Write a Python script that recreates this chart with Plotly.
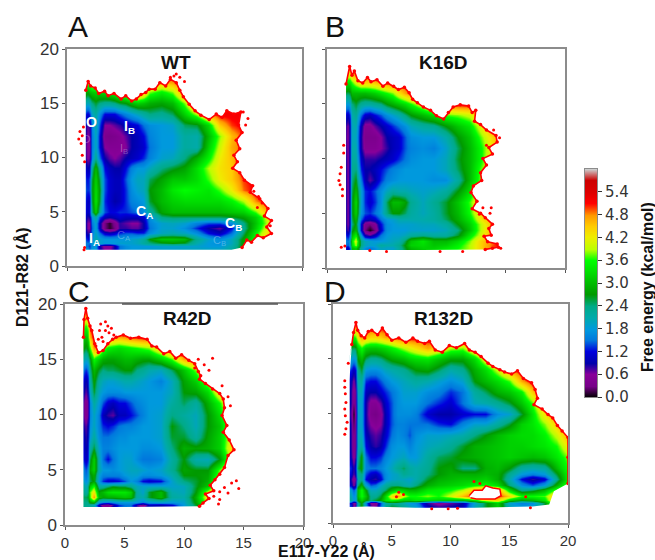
import plotly.graph_objects as go

# ---------------- grid on which the free energy was read (Angstrom)
x_grid = [1.5,1.7,1.9,2.1,2.4,2.8,3.2,3.6,4,4.5,5,5.5,6,6.5,7,8,9,10,11,12,13,14,15,16,17,18,19,20]
y_grid = [1.5,1.8,2.1,2.5,3,3.5,4,4.5,5,6,7,8,9,10,11,12,13,14,15,16,17,18,19,20]

# free energy (kcal/mol); each row is one y_grid value, left to right along x_grid
wt_rows = [
[2.0,1.8,1.5,1.8,1.8,1.0,.6,.6,.9,1.5,1.7,1.8,1.8,1.9,1.9,1.9,1.9,2,2,2,2,2.2,2.8,3.8],
[1.6,1.5,1.3,1.7,1.8,0.9,.5,.5,.9,1.5,1.7,1.8,1.8,1.8,1.8,1.9,1.9,1.9,1.9,1.8,1.8,2.1,2.8,3.8,4.8],
[1.6,1.5,1.5,1.8,2.0,1.9,1.8,1.8,1.8,1.9,1.9,1.9,2,2.2,2.4,2.6,2.7,2.6,2.1,1.8,1.7,2.0,2.8,3.6,4.6],
[1.5,1.2,1.2,1.7,2.1,1.9,1.8,1.8,1.8,1.8,1.8,1.9,2,2.2,2.7,3.1,3.1,3.0,2.3,1.9,1.7,2.0,2.8,3.6,4.5],
[1.2,.8,.8,1.5,2.0,1.5,1.1,1.0,1.1,1.3,1.4,1.4,1.3,1.3,1.7,2,2.1,2.0,1.7,1.2,1.0,1.5,2.5,3.5,4.3],
[1.1,.6,.6,1.4,1.9,1.0,.3,.1,.3,.8,.8,.7,.7,.9,1.5,1.9,1.9,1.7,1.3,.9,.7,1.2,2.3,3.2,4.1,5],
[1.1,.6,.6,1.5,1.9,1.0,.3,.1,.4,.8,.7,.6,.6,.9,1.6,1.9,2,1.9,1.6,1.4,1.4,1.7,2.4,3.1,3.9,4.8],
[1.2,.8,.9,1.7,2.2,1.4,1.0,.9,1,1.1,1.0,1.0,1.0,1.1,1.7,2.4,2.5,2.5,2.5,2.5,2.5,2.6,2.8,3.2,4,4.9],
[1.3,1,1.2,2.3,3.2,2.2,1.4,1.2,1.2,1.3,1.3,1.4,1.5,1.7,2.2,2.8,3.0,3.0,3.0,3,3,3.1,3.2,3.7,4.6],
[1.4,1,1.1,2.5,3.4,2.6,1.3,1.1,.9,1,1.3,1.6,1.7,1.8,2.6,3.0,3.2,3.3,3.3,3.3,3.3,3.5,3.9,4.8],
[1.5,1.3,1.4,2.6,3.3,2.7,1.4,1.1,1,1,1.3,1.7,1.9,2,2.7,3,3.4,3.6,3.5,3.4,3.7,4.2,4.9],
[1.4,1.2,1.4,2.5,3.2,2.5,1.4,1.1,1,1,1.4,1.8,2,2,2.5,2.8,3.1,3.1,3.3,3.7,4.2,4.5,5],
[1.2,.9,1,2.2,3,2.2,1.2,1,.9,.9,1.2,1.6,1.8,1.8,2,2.4,2.6,2.8,3.3,3.9,4.3,4.5],
[.9,.6,.7,1.6,2.3,1.5,.9,.7,.6,.7,.9,1,1.1,1.3,1.6,1.9,2.0,2.4,2.9,3.5,4.2,4.6,5],
[.9,.5,.6,1.5,2.0,1.2,.6,.5,.5,.5,.6,.9,1,1.1,1.5,1.8,1.8,2.2,2.1,3.2,4,4.7,5],
[1,.6,.7,1.5,2.0,1.2,.4,.35,.4,.5,.7,.9,1,1.2,1.6,1.8,1.8,2.2,2.1,3,3.8,4.6,5],
[1,.7,.8,1.6,2.1,1.4,.6,.6,.7,.8,1,1.1,1.2,1.5,1.7,1.8,1.9,2.5,2.6,3.3,4.5,5],
[1.4,1.1,1.3,1.9,2.2,1.7,1.2,1.2,1.2,1.4,1.6,1.8,2.0,2.2,2.4,2.3,2.5,3.2,3.9,4.8],
[2.2,2,2.1,2.4,2.6,2.4,2.3,2.3,2.4,2.6,2.7,3,3.2,3.1,2.9,2.8,3,3.8,5],
[3,2.8,3,3.1,3.2,3.2,3.3,3.4,3.6,4,4.3,4.8,5,4.6,3.8,3.5,3.8,5],
[4.5,3.9,4,4.3,4.6,4.8,5,5.1,5.1,5.1,5.1,5.1,5.1,5.1,4.8,4.6,4.8],
]
k16d_rows = [
[1.5,1.2,1.4,3,3.2,2.2,1.8,1.6,1.7,2,2,2,2.2,2.5,2.8,3,3.3,3.5,3.7,4,4.5,5],
[1.2,.9,1.4,3.0,3.2,2.2,1.7,1.5,1.7,2,1.9,1.9,2.2,2.6,3,3.2,3.2,3.4,3.6,3.9,4.5,5],
[1.6,1.4,1.8,3.3,3.9,2.4,2.0,1.9,1.9,2.2,2.1,2.1,2.3,2.7,3.2,3.3,3.1,3.2,3.5,3.9,4.5,5],
[1.7,1.5,1.9,3.4,4.1,2.4,2,1.9,1.8,1.8,1.9,2,2.1,2.5,3.1,3.4,3,3,3.3,3.8,4.5,4.9],
[1.4,1.1,1.5,3.0,3.5,1.8,.9,.7,1,1.5,1.8,1.9,1.9,2,2.2,2.3,2.2,2.2,2.6,3.4,4.1,4.9],
[1.1,.7,1.2,2.6,3,1.2,.3,.05,.3,1.1,1.7,1.8,1.8,1.8,1.9,1.9,1.9,2,2.4,3.1,4.0,4.8],
[1,.6,1,2.4,2.8,1.2,.4,.3,.5,1.2,1.7,1.8,1.9,1.9,1.9,2,2,2.2,2.7,3.2,4,4.8],
[1,.6,1,2.5,3,1.5,1.1,1,1.1,1.5,1.8,1.9,2.1,2.1,2.1,2.1,2.2,2.5,2.9,3.4,4.3,5],
[1,.6,1,2.6,3.2,1.8,1.4,1.3,1.5,1.8,2.4,2.7,2.7,2.5,2.2,2,2.2,2.6,3,3.6,4.5],
[1,.6,1,2.6,3.3,1.9,1.3,1.1,1.3,1.7,2.5,3,3,2.8,2.3,2,2.3,2.6,3.1,3.7,4.6,5],
[1,.6,1,2.5,3,1.9,1.3,1.2,1.4,1.7,2,2.2,2.1,2.1,2,1.9,2.0,2.2,2.7,3.3,4.4,5],
[1,.6,1,2.4,2.7,1.6,1,.7,.9,1.3,1.6,1.7,1.8,1.8,1.8,1.8,1.7,1.7,2.2,3,3.9,4.6,5],
[1,.6,1,2.3,2.4,1.3,.9,.9,1,1.2,1.4,1.6,1.7,1.8,1.8,1.8,1.8,2,2.5,3,3.8,4.5],
[1,.6,1,2.2,2.2,1.1,.8,.8,.8,.9,1,1.1,1.3,1.5,1.7,1.8,1.8,2,2.6,3,3.6,4.5,5.2],
[.9,.6,1,2.1,2.1,.9,.5,.5,.5,.6,.8,1,1.1,1.4,1.6,1.7,1.6,1.9,2.5,3,3.6,4.4],
[.9,.5,1,2,2,.9,.4,.4,.4,.6,.9,1,1.1,1.4,1.7,1.8,1.8,2.1,2.7,3.1,3.8,4.5,5],
[.9,.6,1,2,2.1,1,.5,.5,.7,.9,1.1,1.3,1.5,1.7,2,2.2,2.3,2.7,3.1,3.4,4.2],
[1.2,1,1.3,2.1,2.3,1.5,1.1,1,1.2,1.4,1.7,1.9,2.1,2.4,2.7,3,3.3,3.7,3.8,4,4.8],
[1.9,1.8,1.9,2.4,2.6,2.3,2.2,2.2,2.3,2.4,2.7,2.9,3.1,3.3,3.6,4.2,4.8,5],
[2.6,2.5,2.6,3,3,3,3,3.1,3.2,3.4,3.6,3.8,4.3,4.7,5],
[3.6,3.4,3.4,3.7,4.1,4.5,4.5,4.5,4.6,4.8,5,5.1],
[4.5,4.5,4.5,5],
]
r42d_rows = [
[2.4,2.4,2.4,2.4,2.4,1.2,.8,.6,1,1.5,1.6,1.6,.8,.6,1.1,1.0,1.2,1.9,2.6,3.5,5],
[2.4,2.3,2.3,2.2,2.0,1.0,.4,.3,.8,1.3,1.5,1.5,.8,.4,1,.9,1.1,1.8,2.6,3.5,5],
[2.4,2.4,2.4,2.8,3.0,1.8,1.7,1.6,1.7,1.8,1.8,1.8,1.8,1.6,1.8,1.9,1.8,1.9,2.8,4,5],
[2.5,2.5,2.6,3.6,4.8,3.0,2.8,2.9,2.9,3.0,3.1,3.0,2.2,2.1,2.6,3,2.2,2.1,2.9,4.3,5],
[2.4,2.2,2.4,3.7,4.3,2.8,3.0,3.3,3.4,3.4,3.4,3.2,2.2,1.9,2.6,3.0,2.1,2,2.7,4,5],
[2.3,2,2.2,3.1,3.6,2.2,2.2,2.4,2.6,2.5,2.5,2.3,2.0,1.9,1.9,1.9,1.9,2.0,2.6,3.1,4.7],
[2.0,1.7,1.9,2.5,2.8,1.8,1.3,1.1,1.1,1.2,1.4,1.8,1.6,1.2,1.1,1.2,1.9,2.4,2.6,2.9,4.2,5],
[1.8,1.5,1.7,2.6,2.9,1.9,1.6,1.6,1.6,1.6,1.8,1.9,1.9,1.7,1.7,1.8,2.1,2.7,2.7,2.8,3.9,5],
[1.7,1.4,1.6,2.8,3.2,2.1,1.8,1.8,1.7,1.8,1.9,2,2,1.9,1.8,1.9,2.3,2.8,2.7,2.7,3.8,5],
[1.3,1,1.2,2.5,3.2,2.1,1.5,1.2,1.5,1.8,1.9,1.9,1.7,1.5,1.5,1.6,2.2,2.7,2.1,2.0,2.7,4.2,5],
[1.2,.9,1.1,2.1,2.6,1.9,1.6,1.6,1.7,1.8,1.8,1.8,1.8,1.7,1.7,1.8,2.4,2.9,2.8,2.9,3.2,4.4,5],
[1.1,.8,1,1.8,2.2,1.7,1.5,1.5,1.6,1.7,1.7,1.8,1.8,1.8,1.8,1.9,2.6,2.6,2.2,2.8,3.2,4.2],
[.9,.7,.9,1.7,2,1.6,1.3,1.2,1.3,1.5,1.6,1.6,1.7,1.8,1.8,1.9,2.7,2.4,2,2.7,3.1,4.2,5],
[.8,.4,.7,1.6,2,1.6,1,.8,.7,1,1,1.2,1.4,1.6,1.8,1.9,2.4,2.2,2,2.7,3.3,4.4],
[.8,.4,.7,1.6,2.2,1.8,1.4,1.1,1,1.2,1.2,1.4,1.6,1.7,1.8,1.8,2.2,2.5,2.2,2.9,3.6,4.8],
[1,.7,.9,1.9,2.6,2,1.8,1.7,1.7,1.7,1.8,1.8,1.8,1.8,1.8,1.8,2,2.7,2.8,3.3,4.4],
[1.2,.9,1.1,2.1,2.8,2.2,2,1.9,1.9,2,2.1,2.1,2,1.9,1.8,1.6,2,2.8,3.2,4,5],
[1.6,1.3,1.5,2.3,3,2.6,2.4,2.5,2.5,2.6,2.7,2.7,2.4,2.3,2.1,2.0,2.5,3.1,3.8,4.9],
[2.2,2,2.1,2.6,3.6,3.2,2.9,2.8,2.8,2.9,3,3,2.9,2.8,2.8,3.2,3.7,4.7],
[2.8,2.6,2.8,3.6,4.8,4.6,3.9,3.5,3.4,3.3,3.4,3.5,3.6,3.7,3.8,4.5,5.1],
[3.2,3,3.2,4.6,5.2,5.1,5.1,4.9,4.8,4.7,4.8,5,5.1],
[3.9,3.6,3.9,5.1],
[4.7,4.5,4.7,5.2],
]
r132d_rows = [
[1.4,.6,.8,2.2,2.8,1.8,.8,.5,1.5,2.3,2.6,2.5,2.3,2.0,1.9,1.0,.8,.9,1,2,2.6,3.2,2,1.8,1.9,2.6,4.5],
[1.2,.5,.7,2.2,2.8,1.7,.6,.4,1.4,2.2,2.4,2.3,2.1,1.8,1.7,.8,.5,.7,.9,1.9,2.6,3.2,1.9,1.6,1.7,2.6,4.5],
[2.2,1.8,1.9,2.7,3.2,2.8,2.4,2.6,2.8,3.4,3.6,3.4,3.2,3.2,3.4,3.3,3.2,3.1,3,3.4,4.2,4.4,3.2,2.8,3,3.4,4.8],
[2.1,1.7,1.9,3,3.6,3.1,2.3,2.3,2.6,3.3,4.3,4.8,4,3.6,3.6,3.8,3.6,4.0,4.6,5.2,5.2,5.2,4.4,3.6,3.6,3.7,4.7],
[1.9,1.4,1.7,3,3.6,2.8,2.0,2.0,2.2,2.5,3,3.3,3.2,3.0,3.0,3.4,3.5,3.6,3.9,4.5,4.9,4.8,3.3,2.3,2.5,3,3.8,4.8],
[1.1,.6,.9,2.4,2.9,1.9,1.4,1.5,1.9,2.2,2.4,2.4,2.2,2.1,2.4,2.9,3.1,3.2,3.3,3.5,3.6,3.3,2.4,1.7,1.4,1.8,2.9,3.9],
[.9,.4,.7,2.1,2.3,1.2,.9,.8,1.1,1.7,1.9,2,2,1.9,2.1,2.6,2.9,3,3.1,3.1,3.2,2.9,2.1,1.2,.8,1.1,2.3,3.6],
[1.2,.7,1,2.2,2.4,1.4,1.1,1,1.3,1.7,1.9,2,2.3,2.2,2.1,2.4,2.7,2.9,2.9,2.9,3,2.9,2.3,1.8,1.6,1.8,2.6,3.6],
[1.3,.8,1.2,2.5,2.8,1.6,1.5,1.5,1.6,1.8,2.0,2.3,2.5,2.2,2.1,2.3,2.7,2.8,2.4,2.4,2.9,3.0,2.7,2.2,2.1,2.2,3,3.7],
[1,.4,.8,2.2,2.8,1.5,1.2,1.2,1.3,1.6,1.8,1.9,2.0,1.8,1.8,2.2,2.5,2.6,2.8,2.9,3,3.1,3.2,3.1,3,3.1,3.4,3.8],
[.9,.3,.7,2,2.2,1.2,.9,.8,.9,1.3,1.7,1.8,1.8,1.6,1.8,2.0,2.1,2.3,2.6,2.9,3.0,3.1,3.2,3.2,3.3,3.4,3.6,4.3],
[.9,.3,.7,2,2,1,.8,.7,.8,1.1,1.5,1.7,1.6,1.4,1.7,1.9,1.9,2.0,2.1,2.4,2.7,3,3.2,3.3,3.3,3.5,4,4.8],
[.9,.2,.7,1.9,1.9,.9,.6,.5,.6,1,1.4,1.6,1.6,1.5,1.5,1.5,1.3,1.2,1.6,1.9,1.9,2.2,2.6,3.2,3.4,3.8,4.5],
[.8,.05,.6,1.9,1.9,.9,.4,.3,.5,1,1.4,1.7,1.7,1.7,1.6,1.1,.9,.9,1.1,1.2,1.2,1.7,1.9,2.6,3.4,4.3,5],
[.9,.3,.7,1.9,1.9,.9,.5,.5,.7,1.1,1.4,1.7,1.8,1.8,1.8,1.5,1.3,1.1,1.5,2.0,2.1,2.3,2.6,3.1,3.7,4.8],
[.9,.4,.7,2,2,1,.9,.9,1.1,1.3,1.5,1.7,1.9,1.9,1.9,1.7,1.6,1.3,1.5,2.2,2.5,2.9,3.1,3.5,4.5],
[1,.6,.9,2.1,2.2,1.3,1.2,1.2,1.4,1.6,1.8,1.9,2,2.1,2.2,2.1,1.9,1.7,1.9,2.7,3,3.3,3.7,4.7,5.2],
[1.3,1,1.2,2.3,2.6,1.8,1.7,1.7,1.8,2,2.1,2.2,2.3,2.5,2.7,2.8,2.5,2.1,2.3,2.9,3.3,4,4.8,5.2],
[1.9,1.7,1.9,2.7,3,2.5,2.3,2.3,2.4,2.6,2.8,2.9,3,3.2,3.3,3.4,3.1,2.8,2.8,3.3,4.2,5],
[2.6,2.5,2.6,3.2,3.6,3.2,3.1,3.1,3.2,3.3,3.5,3.7,3.9,4.1,4.3,4.7,4.4,3.9,3.8,4.6,5.2],
[3.8,3.6,3.7,4.2,4.8,4.6,4.4,4.4,4.5,4.7,4.8,5,5.1,5.2,5.2],
[4.6,4.5,4.6,5],
]

# sampled outer edge of each landscape: rim runs clockwise from top left, close_ shuts it along bottom and left
wt_rim_x = [1.6,1.8,2.0,2.4,2.7,3.2,3.5,4.0,4.6,5.0,5.5,5.9,6.3,6.7,7.0,7.5,7.9,8.4,8.8,9.3,9.6,9.9,10.4,10.9,11.4,12.1,12.7,13.2,13.6,14.2,14.8,14.6,14.9,14.4,14.7,14.2,14.5,14.1,14.7,15.1,15.8,15.6,16.4,17.1,16.8,17.4,17.0,17.4,16.7,16.2,15.7,15.3,14.9]
wt_rim_y = [16.2,17.0,16.6,16.4,15.9,16.1,15.7,15.9,15.4,15.7,15.2,15.4,15.8,16.0,16.3,16.3,16.9,16.6,17.2,16.9,16.2,15.6,14.9,14.3,13.9,13.5,14.0,13.7,14.3,14.0,14.2,13.0,12.3,11.6,10.8,10.2,9.6,9.0,8.6,7.9,7.4,6.8,6.2,5.3,4.6,4.2,3.6,3.0,2.6,2.8,2.2,2.4,1.7]
wt_close_x = [14.0,1.6]
wt_close_y = [1.5,1.5]
wt_spot_x = [1.0,1.1,1.3,1.2,1.4,1.3,1.5,9.1,9.6,10.0,15.0,15.4,15.2,16.3,16.6,16.2,9.3,8.8,17.3,15.9,1.5,1.45]
wt_spot_y = [11.7,12.4,12.0,11.3,12.8,10.2,9.6,17.5,17.4,17.0,14.2,13.6,13.0,6.4,5.8,5.4,17.7,17.4,3.7,6.9,1.7,1.5]

k16d_rim_x = [1.6,1.9,2.1,2.3,2.6,3.0,3.4,3.7,4.2,4.7,5.1,5.6,6.0,6.5,6.9,7.2,7.6,8.1,8.7,9.2,9.8,10.2,10.6,11.2,11.9,12.2,12.5,12.4,12.9,13.4,14.2,14.3,13.6,13.9,13.1,13.4,12.9,13.0,12.3,12.1,12.6,12.2,12.9,13.3,13.9,13.6,13.8,13.2,13.5,14.3,14.4,13.9,13.3]
k16d_rim_y = [16.8,18.4,17.6,18.0,17.1,16.9,17.4,17.0,17.2,16.6,16.9,16.6,16.3,16.5,16.0,15.4,15.1,14.7,14.4,13.9,13.6,14.2,14.7,14.9,14.8,14.2,14.4,13.4,13.1,12.6,12.1,11.5,11.0,10.4,10.0,9.4,8.7,8.0,7.5,6.9,6.1,5.4,5.0,4.6,4.0,3.6,3.0,2.9,2.4,2.2,1.9,1.8,1.7]
k16d_close_x = [8.0,1.6]
k16d_close_y = [1.65,1.65]
k16d_spot_x = [1.1,1.0,1.2,1.3,1.1,1.4,1.4,1.3,13.4,14.0,14.5,12.8,13.1,13.8,13.7,1.5,1.2,5.0,9.5,11.4,14.6,3.6]
k16d_spot_y = [8.6,8.0,9.2,7.2,7.6,11.2,10.5,6.6,11.2,12.6,11.9,4.9,5.5,5.5,5.0,2.0,1.9,1.5,1.5,1.5,1.8,1.6]

r42d_rim_x = [1.55,1.6,1.75,1.9,2.1,2.25,2.5,2.8,3.2,3.6,4.0,4.3,4.9,5.5,6.2,6.9,7.3,7.7,8.3,8.8,9.3,9.8,10.4,10.9,11.2,11.4,11.3,11.8,12.4,13.0,13.3,13.4,13.2,13.6,13.3,13.8,14.2,13.7,13.4,13.0,12.6,12.2,12.5,11.8,12.1,11.6,11.3]
r42d_rim_y = [17.0,18.6,19.6,18.7,18.0,17.6,16.4,15.6,15.8,16.4,16.8,17.0,17.2,16.9,17.0,16.8,16.2,16.1,15.5,15.7,15.1,15.4,14.9,14.6,13.9,13.5,13.2,12.8,12.3,11.9,11.4,10.6,9.9,9.0,8.4,7.7,6.8,6.3,5.2,4.6,4.1,3.6,3.1,2.8,2.4,2.0,1.7]
r42d_close_x = [5.0,1.55]
r42d_close_y = [1.62,1.62]
r42d_spot_x = [2.9,3.1,3.4,3.7,3.2,2.8,3.6,2.6,3.9,4.1,3.4,3.0,13.7,13.9,13.2,12.1,11.7,10.9,11.2,12.4,13.0,14.4,14.0,13.4,13.0,12.5,13.7,12.9,14.6]
r42d_spot_y = [17.6,17.0,17.6,17.4,16.6,16.8,18.0,16.2,17.8,17.2,18.4,18.2,11.6,10.8,12.6,14.0,14.5,14.2,15.0,15.1,2.3,4.0,3.8,3.4,3.0,2.6,2.9,1.9,3.3]

r132d_rim_x = [1.6,1.75,1.95,2.1,2.4,2.7,3.0,3.3,3.8,4.2,4.6,5.0,5.6,6.2,6.8,7.2,7.8,8.2,8.7,9.3,9.9,10.5,11.2,11.6,12.1,12.6,13.2,13.6,14.2,14.6,15.2,15.7,16.2,16.9,17.2,17.4,17.1,17.8,18.3,18.7,19.1,19.5,20.0,20.0,20.0]
r132d_rim_y = [16.3,17.4,18.3,17.6,17.1,16.9,17.5,17.6,17.2,17.8,17.2,16.7,16.9,16.5,16.9,16.6,16.4,16.6,15.8,15.6,16.2,16.0,16.4,15.8,15.6,15.2,14.6,14.3,14.0,13.8,13.6,13.9,13.2,12.8,12.2,11.4,10.8,10.4,9.9,9.6,8.9,8.4,7.8,6.0,3.6]
r132d_close_x = [18.8,18.4,17.0,12.0,7.0,3.0,1.4,1.4,1.4]
r132d_close_y = [2.9,1.7,1.5,1.4,1.4,1.5,1.45,8.0,13.0]
r132d_hole_x = [11.6,12.0,12.7,13.0,13.6,14.2,14.3,13.8,13.0,12.2,11.7]
r132d_hole_y = [2.5,3.0,3.0,3.4,3.2,3.1,2.5,2.2,2.2,2.2,2.3]
r132d_spot_x = [1.0,1.0,1.05,1.1,1.0,1.05,1.2,1.1,1.0,1.3,5.4,5.6,6.0,8.4,9.8,10.6,12.0,12.5,16.4,16.8]
r132d_spot_y = [13.0,12.4,11.8,11.0,10.4,9.8,9.2,8.6,8.1,14.6,2.4,2.8,2.6,1.3,1.3,1.35,3.8,3.6,2.4,1.4]

# colour scale: fractions and colours of the reference colour bar
scale_stops = [0,.05,.10,.15,.20,.25,.30,.35,.40,.45,.50,.55,.60,.65,.70,.75,.80,.85,.90,.95,1]
scale_rgb = ["#000000","#770088","#880099","#0000aa","#0000dd","#0077dd","#0099dd","#00aaaa","#00aa88","#009900","#00bb00","#00dd00","#00ff00","#bbff00","#eeee00","#ffcc00","#ff9900","#ff0000","#dd0000","#cc0000","#cccccc"]
bar_levels = [0,.3,.6,.9,1.2,1.5,1.8,2.1,2.4,2.7,3.0,3.3,3.6,3.9,4.2,4.5,4.8,5.1,5.4,5.7,6.0]
bar_ticks = [0,0.6,1.2,1.8,2.4,3.0,3.6,4.2,4.8,5.4]
axis_ticks = [0,5,10,15,20]
panel_titles = ["WT","K16D","R42D","R132D"]
panel_letters = ["A","B","C","D"]

W, H = 655, 560
FONT = "Liberation Sans"
GOUT = 5.2

def table(rows):
    out = []
    for j in range(len(y_grid)):
        r = rows[j] if j < len(rows) else []
        out.append(list(r) + [GOUT] * (len(x_grid) - len(r)))
    return out

# frames in pixels: left, right, top, bottom
frames = [(67, 302, 49, 266), (327, 565, 49, 268), (65, 303, 304, 525), (333, 568, 304, 523)]
data = [
    (wt_rows, wt_rim_x, wt_rim_y, wt_close_x, wt_close_y, wt_spot_x, wt_spot_y),
    (k16d_rows, k16d_rim_x, k16d_rim_y, k16d_close_x, k16d_close_y, k16d_spot_x, k16d_spot_y),
    (r42d_rows, r42d_rim_x, r42d_rim_y, r42d_close_x, r42d_close_y, r42d_spot_x, r42d_spot_y),
    (r132d_rows, r132d_rim_x, r132d_rim_y, r132d_close_x, r132d_close_y, r132d_spot_x, r132d_spot_y),
]

fig = go.Figure()
layout = dict(
    width=W, height=H, autosize=False, margin=dict(l=0, r=0, t=0, b=0),
    paper_bgcolor="white", plot_bgcolor="white", showlegend=False,
    font=dict(family=FONT, color="#222222", size=14),
    coloraxis=dict(cmin=0, cmax=6, showscale=False,
                   colorscale=[[s, c] for s, c in zip(scale_stops, scale_rgb)]),
    shapes=[dict(type="line", xref="paper", yref="paper", x0=122 / W, x1=278 / W, y0=1 - 304 / H, y1=1 - 304 / H,
                 line=dict(color="#555555", width=1.5))],
)
anns = []
def note(text, a, b, size, color="#111111", angle=0):
    anns.append(dict(text=text, x=a / W, y=1 - b / H, xref="paper", yref="paper", showarrow=False,
                     xanchor="center", yanchor="middle", textangle=angle,
                     font=dict(size=size, color=color)))

title_px = [(176, 62), (443, 62), (187, 318), (444, 318)]
for i, (f, d) in enumerate(zip(frames, data)):
    L, R, T, B = f
    rows, rx, ry, cx, cy, sx, sy = d
    ax = "" if i == 0 else str(i + 1)
    xr, yr = "x" + ax, "y" + ax
    fig.add_trace(go.Heatmap(x=x_grid, y=y_grid, z=table(rows), coloraxis="coloraxis",
                             zsmooth="best", xaxis=xr, yaxis=yr, hoverinfo="skip"))
    px = rx + cx
    py = ry + cy
    mask_x = [-1] + px + [px[0], -1, 21, 21, -1, -1]
    mask_y = [-1] + py + [py[0], -1, -1, 21, 21, -1]
    fig.add_trace(go.Scatter(x=mask_x, y=mask_y, mode="lines", fill="toself", fillcolor="white",
                             line=dict(width=0, color="white"), xaxis=xr, yaxis=yr, hoverinfo="skip"))
    if i == 3:
        fig.add_trace(go.Scatter(x=r132d_hole_x, y=r132d_hole_y, mode="lines", fill="toself",
                                 fillcolor="white", line=dict(width=1.5, color="#ff0000"),
                                 xaxis=xr, yaxis=yr, hoverinfo="skip"))
    fig.add_trace(go.Scatter(x=rx, y=ry, mode="lines+markers", line=dict(width=1.6, color="#ff0000"),
                             marker=dict(size=3.5, color="#ff0000"),
                             xaxis=xr, yaxis=yr, hoverinfo="skip"))
    fig.add_trace(go.Scatter(x=sx, y=sy, mode="markers", marker=dict(size=3, color="#ff0000"),
                             xaxis=xr, yaxis=yr, hoverinfo="skip"))
    common = dict(range=[0, 20], tickvals=axis_ticks, ticks="outside", ticklen=3, tickcolor="#555555",
                  showgrid=False, zeroline=False, showline=True, mirror=True, automargin=False,
                  linecolor="#8c8c8c", linewidth=1.5)
    layout["xaxis" + ax] = dict(common, domain=[L / W, R / W], anchor=yr, showticklabels=i >= 2,
                                tickfont=dict(size=15, color="#333333", family="Liberation Sans"))
    layout["yaxis" + ax] = dict(common, domain=[1 - B / H, 1 - T / H], anchor=xr, showticklabels=i in (0, 2),
                                tickfont=dict(size=17, color="#333333", family="Liberation Sans"))
    note(f"<b>{panel_titles[i]}</b>", title_px[i][0], title_px[i][1], 19)

# colour bar, drawn on its own small pair of axes
fig.add_trace(go.Heatmap(x=[0, 1], y=bar_levels, z=[[v, v] for v in bar_levels], coloraxis="coloraxis",
                         zsmooth="best", xaxis="x5", yaxis="y5", hoverinfo="skip"))
layout["xaxis5"] = dict(domain=[585 / W, 597 / W], range=[0, 1], anchor="y5", showticklabels=False, ticks="",
                        showgrid=False, zeroline=False, showline=True, mirror=True, automargin=False,
                        linecolor="#8c8c8c", linewidth=1)
layout["yaxis5"] = dict(domain=[1 - 397 / H, 1 - 169 / H], range=[0, 6], anchor="x5", side="right",
                        tickvals=bar_ticks, ticktext=[f"{t:.1f}" for t in bar_ticks], ticks="outside",
                        ticklen=4, tickcolor="#333333", showgrid=False, zeroline=False, showline=True,
                        mirror=True, automargin=False, linecolor="#8c8c8c", linewidth=1,
                        tickfont=dict(size=15, color="#333333", family="DejaVu Sans"))

letters_px = [(78, 26), (335, 26), (79, 291), (335, 291)]
for s, (a, b) in zip(panel_letters, letters_px):
    note(s, a, b, 30)

state_labels = [("O", 91, 122), ("I<sub>B</sub>", 129, 127), ("C<sub>A</sub>", 144, 212), ("C<sub>B</sub>", 233, 224), ("I<sub>A</sub>", 94, 239)]
for s, a, b in state_labels:
    note(f"<b>{s}</b>", a, b, 14, "white")
faint_labels = [("O", 86, 139), ("I<sub>B</sub>", 124, 149), ("C<sub>A</sub>", 124, 236), ("C<sub>B</sub>", 219, 241)]
for s, a, b in faint_labels:
    note(s, a, b, 11, "rgba(255,255,255,0.3)")

note("<b>D121-R82 (Å)</b>", 22, 277, 16, angle=-90)
note("<b>E117-Y22 (Å)</b>", 326, 551, 16)
note("<b>Free energy (kcal/mol)</b>", 647, 287, 16, angle=-90)
layout["annotations"] = anns
fig.update_layout(**layout)
fig.write_html("out.html", post_script="document.body.style.margin='0';", config={"displayModeBar": False})
